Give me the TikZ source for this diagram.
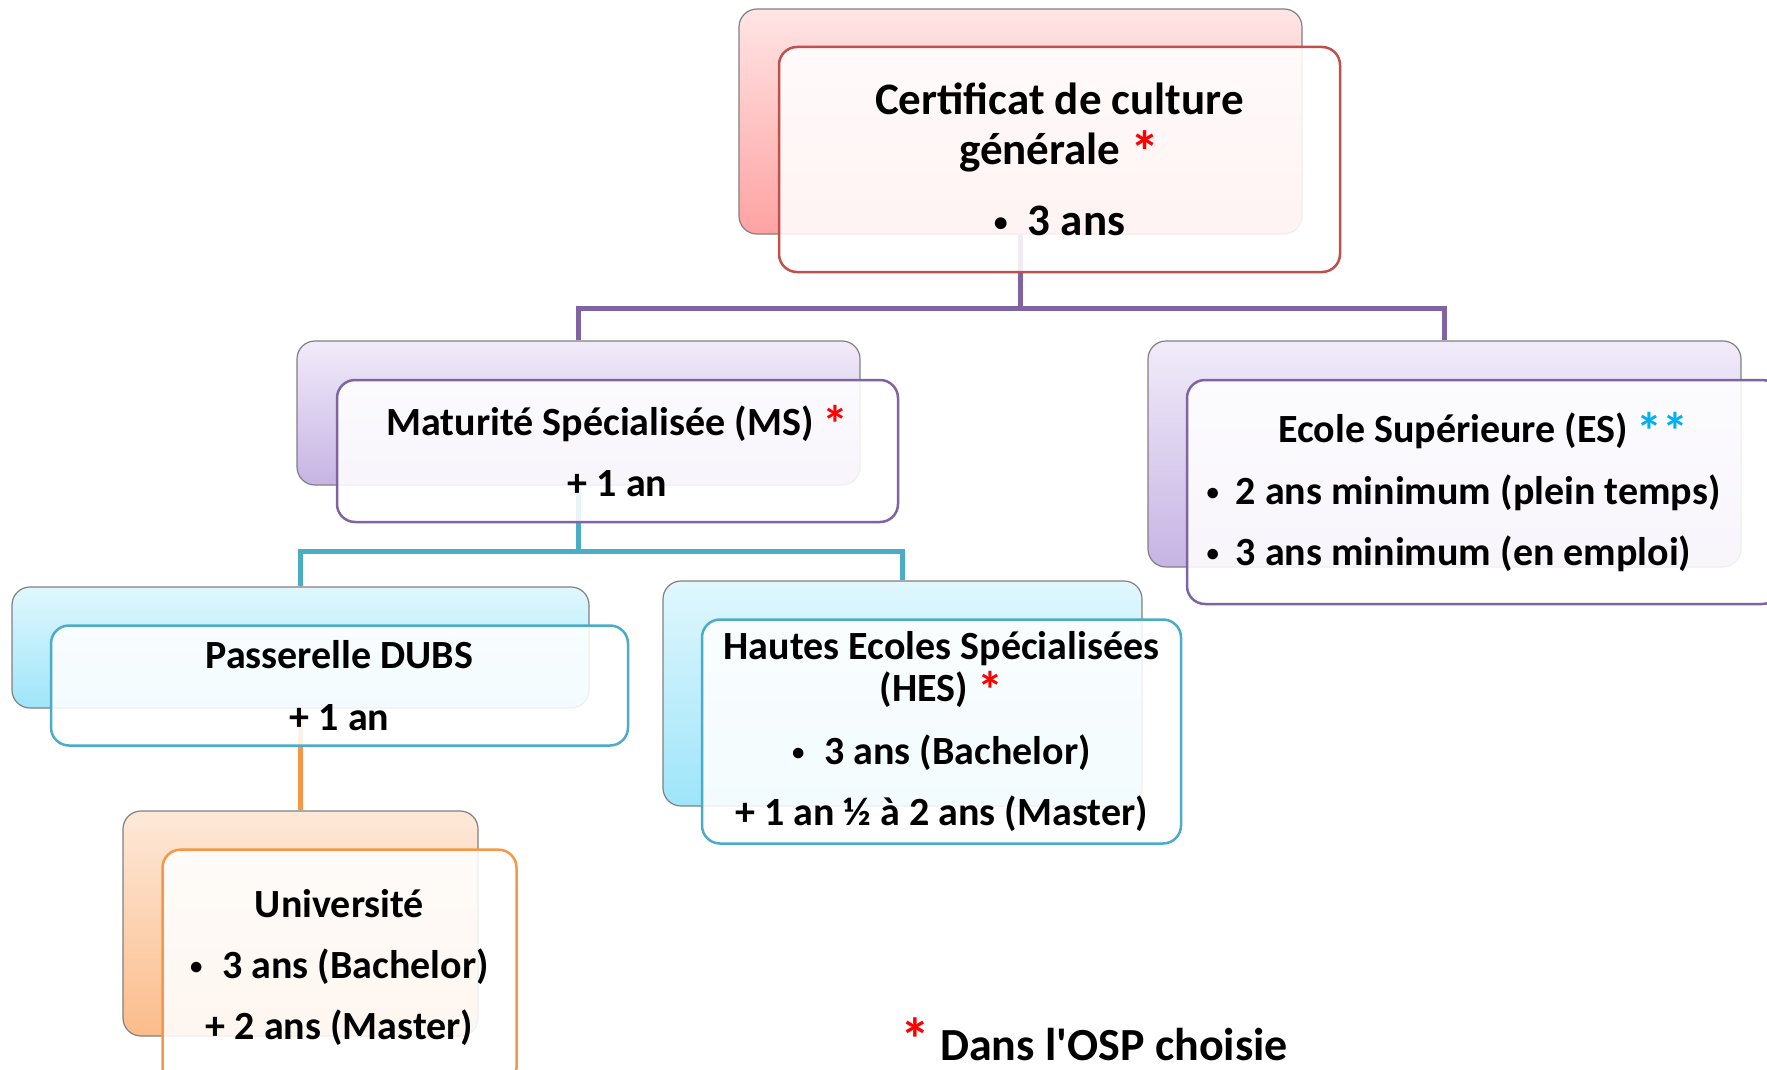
\documentclass[tikz,border=0pt]{standalone}
\usepackage{fontspec}
\usepackage{graphicx}
\usepackage{calc}
\setmainfont{Carlito}
\usetikzlibrary{backgrounds,positioning}
\definecolor{rosehaut}{RGB}{255,229,229}
\definecolor{rosebas}{RGB}{255,162,162}
\definecolor{lilashaut}{RGB}{241,235,249}
\definecolor{lilasbas}{RGB}{198,180,228}
\definecolor{cielhaut}{RGB}{224,247,253}
\definecolor{cielbas}{RGB}{158,229,250}
\definecolor{pechehaut}{RGB}{253,233,217}
\definecolor{pechebas}{RGB}{251,188,138}
\definecolor{rouge}{RGB}{192,80,77}
\definecolor{violet}{RGB}{128,100,162}
\definecolor{bleu}{RGB}{75,172,198}
\definecolor{orange}{RGB}{247,150,70}
\definecolor{etoile}{RGB}{255,0,0}
\definecolor{etoilebleue}{RGB}{0,176,240}
\newcommand{\puce}{\raisebox{0.1em}{\scalebox{0.62}{•}}}
\newcommand{\etoilerouge}{\textcolor{etoile}{\smash{\raisebox{-0.17em}{\scalebox{1.3}{*}}}}}
\newcommand{\etoilesbleues}{\textcolor{etoilebleue}{\smash{\raisebox{-0.17em}{\scalebox{1.3}{**}}}}}
% lignes alignées à gauche dans la boîte ES
\newcommand{\ligneES}[1]{\makebox[\widthof{\puce\hspace{0.42em}2 ans minimum (plein temps)}+40pt][l]{#1}}

\begin{document}
\begin{tikzpicture}[x=1pt, y=-1pt,
    backbox/.style={rounded corners=18pt, draw=black!50, line width=1.2pt,
                    top color=#1haut, bottom color=#1bas, inner sep=0pt},
    frontbox/.style={rounded corners=18pt, draw=#1, line width=2.5pt,
                     fill=white, fill opacity=0.88, text opacity=1,
                     align=center, inner sep=0pt,
                     font=\bfseries\fontsize{40}{42}\selectfont},
    link/.style={line width=5pt, #1},
    shiftfront/.style={shift={(39,38)}}]
  \useasboundingbox (0,0) rectangle (1767,1070);

  % niveau 1
  \node[backbox=rose, minimum width=563pt, minimum height=225pt] (cgback) at (1020.5,121.5) {};
  \node[frontbox=rouge, minimum width=561pt, minimum height=225pt,
        font=\bfseries\fontsize{45}{50}\selectfont] (cg) at ([shiftfront]cgback)
    {Certificat de culture\\ générale \etoilerouge\\[21pt] \puce\hspace{0.45em}3 ans};

  % niveau 2
  \node[backbox=lilas, minimum width=563pt, minimum height=144pt] (msback) at (578.5,413) {};
  \node[frontbox=violet, minimum width=561pt, minimum height=142pt] (ms) at ([shiftfront]msback)
    {Maturité Spécialisée (MS) \etoilerouge\\[19pt] + 1 an};

  \node[backbox=lilas, minimum width=593pt, minimum height=226pt] (esback) at (1444.5,454) {};
  \node[frontbox=violet, minimum width=593pt, minimum height=224pt] (es) at ([shiftfront]esback)
    {Ecole Supérieure (ES) \etoilesbleues\\[20pt]
     \ligneES{\puce\hspace{0.42em}2 ans minimum (plein temps)}\\[19pt]
     \ligneES{\puce\hspace{0.42em}3 ans minimum (en emploi)}};

  % niveau 3
  \node[backbox=ciel, minimum width=577pt, minimum height=121pt] (dubsback) at (300.5,647.5) {};
  \node[frontbox=bleu, minimum width=577pt, minimum height=120pt] (dubs) at ([shiftfront]dubsback)
    {Passerelle DUBS\\[20pt] + 1 an};

  \node[backbox=ciel, minimum width=479pt, minimum height=225pt] (hesback) at (902.5,693.5) {};
  \node[frontbox=bleu, minimum width=479pt, minimum height=224pt] (hes) at ([shiftfront]hesback)
    {Hautes Ecoles Spécialisées\\ (HES) \etoilerouge\\[21pt]
     \puce\hspace{0.5em}3 ans (Bachelor)\\[19pt] + 1 an ½ à 2 ans (Master)};

  % niveau 4
  \node[backbox=peche, minimum width=355pt, minimum height=225pt] (uniback) at (300.5,923.5) {};
  \node[frontbox=orange, minimum width=354pt, minimum height=236pt, anchor=north] (uni)
    at ([shiftfront]uniback.north)
    {Université\\[19pt] \puce\hspace{0.5em}3 ans (Bachelor)\\[19pt] + 2 ans (Master)};

  \node[font=\bfseries\fontsize{46}{48}\selectfont, anchor=base, inner sep=0pt] (note) at (1094,1060)
    {\textcolor{etoile}{\scalebox{1.3}{*}}\ Dans l\textquotesingle OSP choisie};

  \begin{scope}[on background layer]
    \coordinate (fork1) at (cgback.south |- 0,308);
    \coordinate (fork2) at (msback.south |- 0,551);
    \draw[link=violet] (cgback.south) -- (fork1) -| (msback.north);
    \draw[link=violet] (fork1) -| (esback.north);
    \draw[link=bleu] (msback.south) -- (fork2) -| (dubsback.north);
    \draw[link=bleu] (fork2) -| (hesback.north);
    \draw[link=orange] (dubsback.south) -- (uniback.north);
  \end{scope}
\end{tikzpicture}
\end{document}
